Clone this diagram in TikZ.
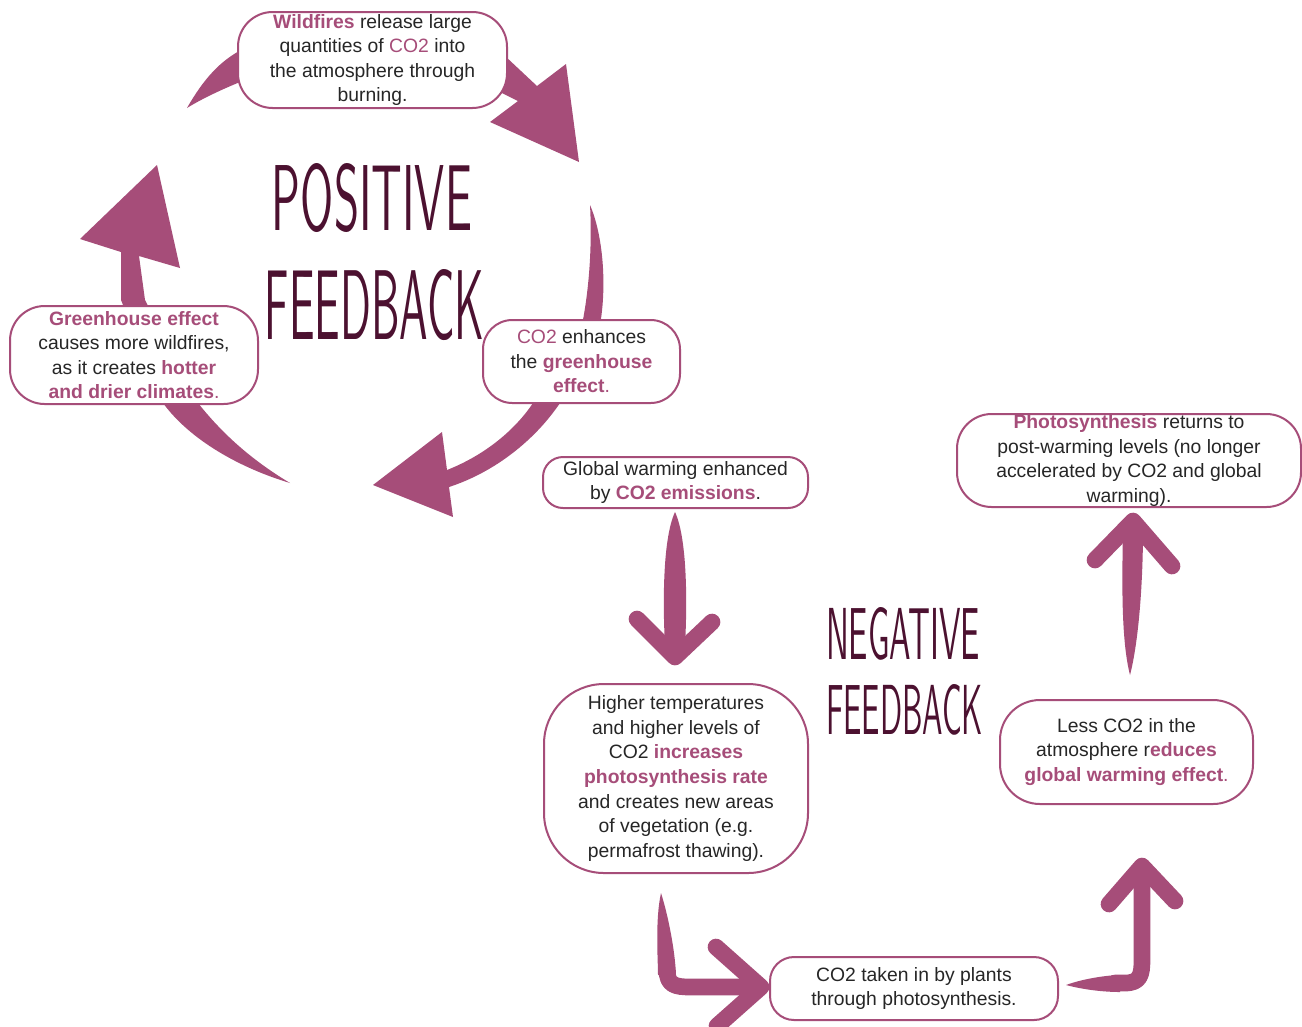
\documentclass[tikz,border=0pt]{standalone}
\usepackage{fontspec}
\usepackage{graphicx}
\setmainfont{Liberation Sans}
\definecolor{mag}{HTML}{A64D79}
\definecolor{titlecol}{HTML}{4C1130}
\definecolor{txt}{HTML}{262626}
\newcommand{\hl}[1]{\textcolor{mag}{\textbf{#1}}}
\newcommand{\hm}[1]{\textcolor{mag}{#1}}
\tikzset{
  box/.style={draw=mag, line width=1.5pt, fill=white, inner sep=0pt, align=center,
    text=txt, font=\fontsize{14.5}{18.4}\selectfont,
    execute at begin node={\rule{0pt}{16pt}}},
  arrowfill/.style={fill=mag, draw=none},
  chev/.style={draw=mag, line width=12.5pt, line cap=round, line join=round},
  titlestyle/.style={text=titlecol, inner sep=0pt, font=\sffamily}
}
\begin{document}
\begin{tikzpicture}[x=0.75pt,y=-0.75pt]
\useasboundingbox[fill=white] (0,0) rectangle (1302,1026);

% ---------- positive feedback loop arrows ----------
% top arc
\fill[arrowfill] (187,108) .. controls (203,80) and (220,60) .. (245,48) -- (505,56) -- (537,86)
  -- (566,64) -- (579,162) -- (490,122) -- (518,101) -- (500,92) -- (245,80)
  .. controls (225,88) and (203,98) .. (187,108) -- cycle;
% right arc
\fill[arrowfill] (590,205) .. controls (603,235) and (607,285) .. (600,325) -- (560,403)
  .. controls (535,440) and (495,472) .. (449,487) -- (453,517) -- (373,485) -- (442,432)
  -- (447,470) .. controls (485,455) and (515,430) .. (533,403) -- (582,325)
  .. controls (590,285) and (592,240) .. (590,205) -- cycle;
% left arc
\fill[arrowfill] (290,483) .. controls (240,468) and (190,440) .. (163,403) -- (121,300)
  -- (121,252) -- (80,239) -- (157,165) -- (180,268) -- (139,256) -- (145,300) -- (198,403)
  .. controls (225,437) and (255,462) .. (290,483) -- cycle;

% ---------- negative feedback arrows ----------
% down arrow
\fill[arrowfill] (675,512) .. controls (688,540) and (687,610) .. (685,645) -- (665,645)
  .. controls (663,610) and (662,540) .. (675,512) -- cycle;
\draw[chev] (637,619) -- (675,657) -- (712,622);
% up arrow (right)
\fill[arrowfill] (1130,675) .. controls (1121,640) and (1122,580) .. (1123,530) -- (1143,530)
  .. controls (1143,580) and (1139,640) .. (1130,675) -- cycle;
\draw[chev] (1095,560) -- (1133,521) -- (1172,566);
% bottom-left elbow arrow
\fill[arrowfill] (661,893) .. controls (655,920) and (658,960) .. (658,975) -- (676,975)
  .. controls (675,950) and (668,915) .. (661,893) -- cycle;
\draw[chev] (667,970) .. controls (667,985) and (675,987) .. (690,987) -- (760,987);
\draw[chev] (716,947) -- (761,987) -- (717,1026);
% bottom-right elbow arrow
\fill[arrowfill] (1066,985) .. controls (1085,978) and (1110,975) .. (1120,975) -- (1120,992)
  .. controls (1105,992) and (1085,990) .. (1066,985) -- cycle;
\draw[chev] (1115,983) -- (1125,983) .. controls (1140,983) and (1142,975) .. (1142,960) -- (1142,868);
\draw[chev] (1109,904) -- (1142,866) -- (1175,901);

% ---------- boxes ----------
\node[box, minimum width=201.75pt, minimum height=72pt, rounded corners=26pt] (wild) at (372.5,60)
  {\hl{Wildfires} release large\\quantities of \hm{CO2} into\\the atmosphere through\\burning.};
\node[box, minimum width=186pt, minimum height=73.5pt, rounded corners=26pt] (green) at (134,355)
  {\hl{Greenhouse effect}\\causes more wildfires,\\as it creates \hl{hotter}\\\hl{and drier climates}\hm{.}};
\node[box, minimum width=147.75pt, minimum height=62.25pt, rounded corners=22pt] (enh) at (581.5,361.5)
  {\hm{CO2} enhances\\the \hl{greenhouse}\\\hl{effect}\hm{.}};
\node[box, minimum width=198.75pt, minimum height=38.25pt, rounded corners=15pt] (glob) at (675.5,482.5)
  {Global warming enhanced\\by \hl{CO2 emissions}.};
\node[box, minimum width=258pt, minimum height=69.75pt, rounded corners=26pt] (photo) at (1129,460.5)
  {\hl{Photosynthesis} returns to\\post-warming levels (no longer\\accelerated by CO2 and global\\warming).};
\node[box, minimum width=198pt, minimum height=141.75pt, rounded corners=45pt] (higher) at (676,778.5)
  {Higher temperatures\\and higher levels of\\CO2 \hl{increases}\\\hl{photosynthesis rate}\\and creates new areas\\of vegetation (e.g.\\permafrost thawing).};
\node[box, minimum width=189.75pt, minimum height=78pt, rounded corners=30pt] (less) at (1126.5,752)
  {Less CO2 in the\\atmosphere r\hl{educes}\\\hl{global warming effect}\hm{.}};
\node[box, minimum width=216pt, minimum height=47.25pt, rounded corners=18pt] (taken) at (914,988.5)
  {CO2 taken in by plants\\through photosynthesis.};

% ---------- titles ----------
\node[titlestyle] (pos1) at (372,198.5) {\resizebox{150pt}{50.25pt}{POSITIVE}};
\node[titlestyle] (pos2) at (374.5,305) {\resizebox{164.25pt}{52.5pt}{FEEDBACK}};
\node[titlestyle] (neg1) at (903,634) {\resizebox{115.5pt}{39pt}{NEGATIVE}};
\node[titlestyle] (neg2) at (904.5,710) {\resizebox{117.75pt}{37.5pt}{FEEDBACK}};
\end{tikzpicture}
\end{document}
